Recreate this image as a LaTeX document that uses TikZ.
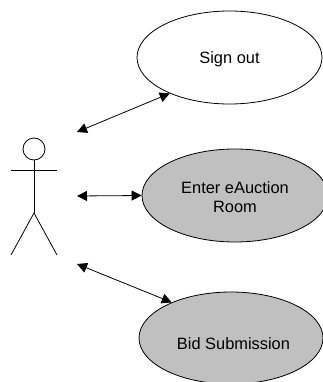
\documentclass[tikz,border=0pt]{standalone}
\usepackage{fontspec}
\setmainfont{Liberation Sans}
\usetikzlibrary{shapes.geometric,arrows.meta}
\definecolor{usefill}{HTML}{C0C0C0}
\tikzset{
  usecase/.style={draw=black,ellipse,line width=0.8pt,inner sep=0pt,align=center,font=\fontsize{16.4}{19}\selectfont},
  link/.style={draw=black,line width=0.8pt,{Triangle[length=10pt,width=10pt]}-{Triangle[length=10pt,width=10pt]}},
  limb/.style={draw=black,line width=0.8pt}
}
\begin{document}
\begin{tikzpicture}[x=1pt,y=-1pt]
\useasboundingbox (0,0) rectangle (323,382);
\clip (0,0) rectangle (323,382);
\fill[white] (0,0) rectangle (323,382);
\node[usecase,minimum width=185pt,minimum height=93pt] (sign) at (229.5,57.5) {\rule{0pt}{16pt}Sign out};
\node[usecase,fill=usefill,minimum width=186pt,minimum height=93pt] (enter) at (235,195.5) {\rule{0pt}{16pt}Enter eAuction\\Room};
\node[usecase,fill=usefill,minimum width=184pt,minimum height=92pt] (bid) at (231,338) {\rule{0pt}{24pt}\hspace*{5pt}Bid Submission};
\node[draw=black,circle,line width=0.8pt,minimum size=22pt,inner sep=0pt] (head) at (34,149) {};
\coordinate (hip) at (34,213);
\coordinate (armL) at (11,170);
\coordinate (armR) at (57,170);
\coordinate (legL) at (11,255);
\coordinate (legR) at (57,255);
\draw[limb] (head.south) -- (hip);
\draw[limb] (armL) -- (armR);
\draw[limb] (legL) -- (hip) -- (legR);
\coordinate (a1) at (77,132);
\coordinate (a2) at (77,196);
\coordinate (a3) at (77,264);
\draw[link] (a1) -- (sign.211.5);
\draw[link] (a2) -- (enter.west);
\draw[link] (a3) -- (bid.149.6);
\end{tikzpicture}
\end{document}
